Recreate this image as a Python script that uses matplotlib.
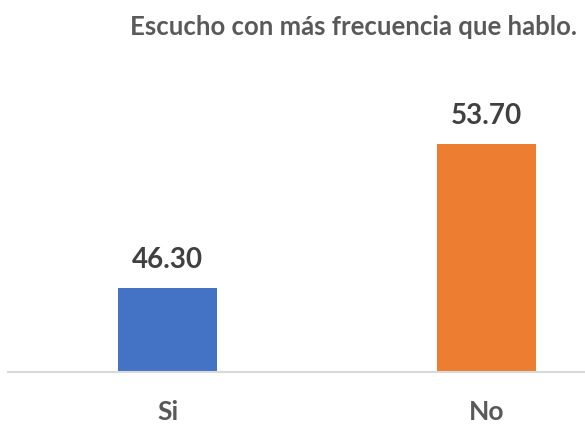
import matplotlib
matplotlib.use("Agg")
import matplotlib.pyplot as plt

categories = ["Si", "No"]
values = [46.30, 53.70]
colors = ["#4472C4", "#ED7D31"]
title = "Escucho con más frecuencia que hablo."

W, H, DPI = 585, 425, 100
fig = plt.figure(figsize=(W / DPI, H / DPI), dpi=DPI)
plt.rcParams['font.family'] = ['Lato', 'DejaVu Sans']

ymin, ymax = 42, 56
base_px = 372
px_per_unit = 19.46
ax_left, ax_right = 8, 646
ax_top_px = base_px - (ymax - ymin) * px_per_unit
ax = fig.add_axes([ax_left / W, (H - base_px) / H, (ax_right - ax_left) / W, (base_px - ax_top_px) / H])

x = list(range(len(categories)))
ax.bar(x, values, width=0.313, color=colors, bottom=0)
ax.set_xlim(-0.5, 1.5)
ax.set_ylim(ymin, ymax)

for xi, v in zip(x, values):
    ax.annotate(f"{v:.2f}", (xi, v), xytext=(0, 28 * 72 / DPI), textcoords="offset points",
                ha="center", va="center", fontsize=20, fontweight="bold", color="#404040")

for s in ["top", "right", "left"]:
    ax.spines[s].set_visible(False)
ax.spines["bottom"].set_color("#D9D9D9")
ax.spines["bottom"].set_linewidth(1.5)
ax.set_yticks([])
ax.set_xticks(x)
ax.set_xticklabels(categories, fontsize=19, fontweight="bold", color="#595959")
ax.tick_params(axis="x", length=0, pad=20)

fig.text(354 / W, 1 - 27 / H, title, ha="center", va="center", fontsize=18.5,
         fontweight="bold", color="#595959")

fig.savefig("out.png", dpi=DPI)
